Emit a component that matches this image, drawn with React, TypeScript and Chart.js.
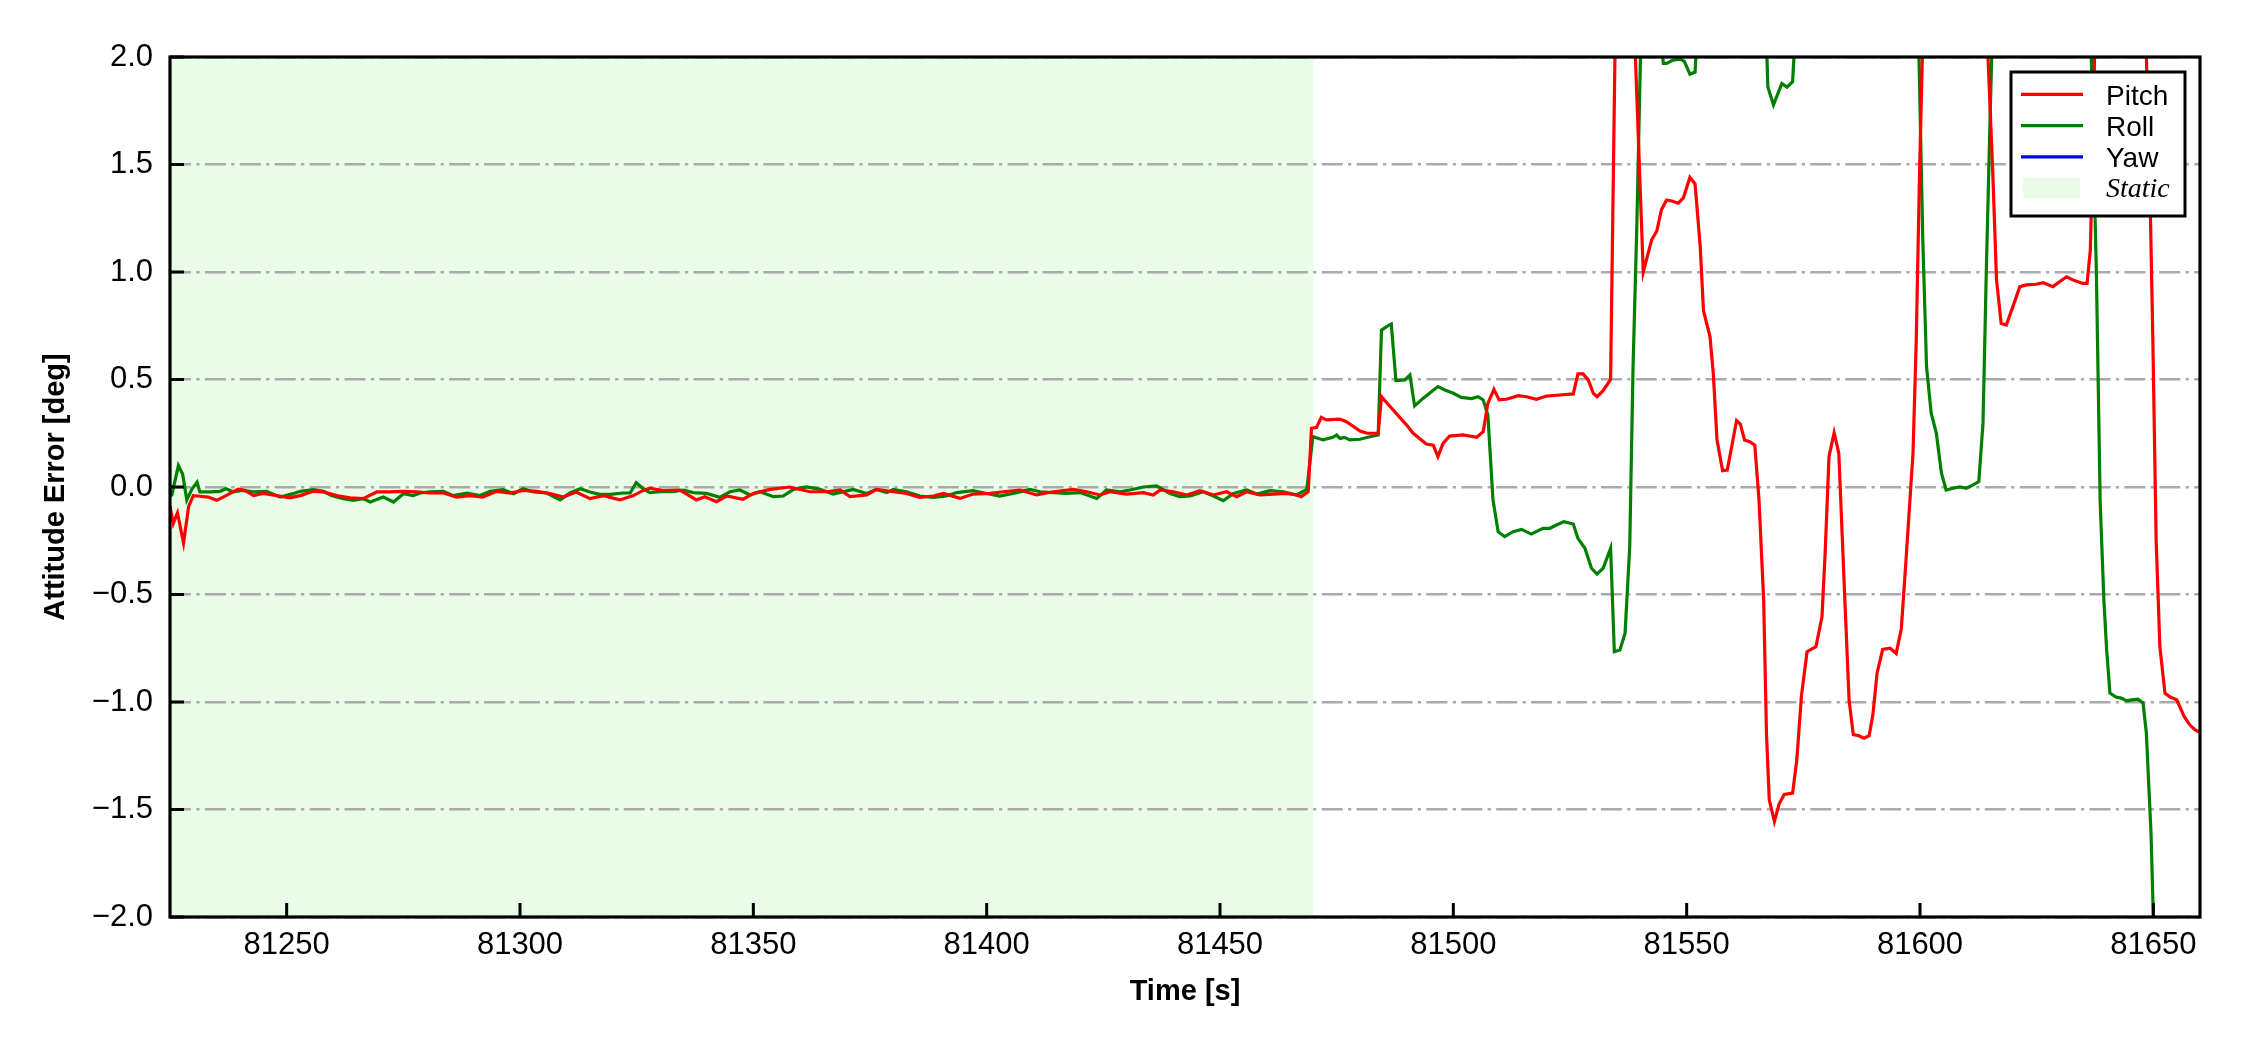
import React, { useEffect, useRef } from 'react';
import { Chart, registerables } from 'chart.js';

Chart.register(...registerables);

// ---------------- data ----------------
const X_MIN = 81225;
const X_MAX = 81660;
const X_TICK_STEP = 50;
const Y_MIN = -2;
const Y_MAX = 2;
const Y_TICK_STEP = 0.5;
const STATIC_START = 81225;
const STATIC_END = 81470;

const X_TITLE = 'Time [s]';
const Y_TITLE = 'Attitude Error [deg]';
const SERIES_LABELS = ['Pitch', 'Roll', 'Yaw'];
const STATIC_LABEL = 'Static';

const PITCH_T = [
  81225.0, 81225.7, 81226.6, 81227.9, 81229.0, 81230.0, 81231.4, 81233.2, 81235.0, 81237.0,
  81239.6, 81241.0, 81242.9, 81245.0, 81247.9, 81250.7, 81252.9, 81255.7, 81257.9, 81260.7,
  81263.6, 81266.4, 81269.3, 81272.0, 81275.0, 81277.9, 81280.7, 81283.6, 81286.4, 81289.3,
  81292.0, 81295.0, 81297.9, 81300.7, 81303.6, 81306.4, 81309.3, 81312.0, 81315.0, 81317.9,
  81321.4, 81324.3, 81326.4, 81327.8, 81330.7, 81334.3, 81337.8, 81339.6, 81342.1, 81344.3,
  81347.8, 81350.0, 81353.6, 81357.8, 81362.1, 81365.7, 81368.6, 81370.7, 81374.3, 81376.4,
  81380.0, 81382.8, 81385.7, 81388.6, 81390.7, 81394.3, 81397.1, 81400.7, 81403.6, 81407.1,
  81410.7, 81414.3, 81418.6, 81421.4, 81424.3, 81426.4, 81430.0, 81433.6, 81435.7, 81437.2,
  81440.0, 81442.9, 81445.7, 81448.6, 81451.4, 81453.6, 81455.7, 81458.6, 81461.4, 81464.3,
  81466.4, 81467.4, 81468.9, 81469.6, 81470.7, 81471.7, 81472.8, 81475.7, 81477.1, 81480.0,
  81481.5, 81483.9, 81484.6, 81487.1, 81490.0, 81491.4, 81494.2, 81495.7, 81496.7, 81497.8,
  81499.2, 81502.1, 81505.0, 81506.4, 81507.4, 81508.7, 81509.8, 81511.4, 81513.9, 81515.7,
  81517.8, 81520.0, 81522.8, 81525.7, 81526.7, 81527.8, 81528.9, 81530.0, 81530.8, 81532.1,
  81533.7, 81535.0, 81538.0, 81540.7, 81542.5, 81543.6, 81544.6, 81545.7, 81546.8, 81548.2,
  81549.3, 81550.7, 81551.8, 81552.9, 81553.6, 81555.0, 81555.7, 81556.5, 81557.7, 81558.7,
  81560.7, 81561.5, 81562.4, 81563.5, 81564.6, 81565.5, 81566.5, 81567.1, 81567.7, 81568.8,
  81569.8, 81570.9, 81572.7, 81573.6, 81574.6, 81575.8, 81577.7, 81579.0, 81579.7, 81580.5,
  81581.6, 81582.6, 81583.9, 81584.8, 81585.7, 81586.9, 81588.0, 81589.1, 81589.9, 81590.8,
  81592.0, 81593.6, 81594.9, 81596.0, 81597.0, 81598.5, 81599.2, 81599.9, 81601.0, 81614.0,
  81615.6, 81616.4, 81617.4, 81618.5, 81619.9, 81621.4, 81622.8, 81624.9, 81626.4, 81628.5,
  81629.9, 81631.4, 81633.1, 81634.9, 81635.8, 81636.5, 81636.9, 81638.0, 81648.0, 81649.2,
  81649.9, 81650.6, 81651.4, 81652.5, 81653.6, 81655.0, 81656.6, 81657.8, 81658.9, 81660.0,
];
const PITCH_V = [
  -0.09, -0.17, -0.12, -0.26, -0.09, -0.04, -0.043, -0.047, -0.062, -0.04,
  -0.01, -0.015, -0.04, -0.03, -0.04, -0.05, -0.04, -0.02, -0.023, -0.04,
  -0.05, -0.054, -0.023, -0.023, -0.02, -0.023, -0.028, -0.028, -0.047, -0.04,
  -0.047, -0.02, -0.028, -0.016, -0.02, -0.031, -0.047, -0.023, -0.054, -0.04,
  -0.06, -0.04, -0.016, -0.005, -0.017, -0.014, -0.06, -0.045, -0.068, -0.042,
  -0.057, -0.03, -0.011, 0.0, -0.022, -0.022, -0.014, -0.045, -0.037, -0.011,
  -0.022, -0.03, -0.048, -0.042, -0.03, -0.053, -0.033, -0.03, -0.022, -0.014,
  -0.037, -0.022, -0.011, -0.022, -0.037, -0.022, -0.033, -0.026, -0.037, -0.014,
  -0.022, -0.037, -0.017, -0.037, -0.022, -0.045, -0.022, -0.037, -0.033, -0.03,
  -0.037, -0.045, -0.022, 0.273, 0.278, 0.324, 0.312, 0.316, 0.304, 0.26,
  0.25, 0.25, 0.42, 0.358, 0.288, 0.25, 0.2, 0.195, 0.141, 0.203,
  0.237, 0.242, 0.231, 0.257, 0.389, 0.454, 0.405, 0.408, 0.425, 0.42,
  0.408, 0.423, 0.428, 0.433, 0.526, 0.526, 0.498, 0.436, 0.42, 0.448,
  0.5, 2.6, 2.6, 1.0, 1.15, 1.19, 1.29, 1.335, 1.33, 1.32,
  1.345, 1.44, 1.41, 1.12, 0.82, 0.7, 0.53, 0.22, 0.076, 0.079,
  0.309, 0.293, 0.219, 0.211, 0.195, -0.06, -0.526, -1.145, -1.455, -1.556,
  -1.475, -1.43, -1.424, -1.27, -0.97, -0.766, -0.743, -0.604, -0.294, 0.141,
  0.253, 0.157, -0.526, -0.99, -1.152, -1.157, -1.168, -1.157, -1.06, -0.866,
  -0.755, -0.75, -0.774, -0.658, -0.34, 0.157, 0.684, 1.459, 2.45, 2.3,
  1.459, 0.963, 0.76, 0.753, 0.839, 0.932, 0.94, 0.943, 0.95, 0.932,
  0.955, 0.978, 0.96, 0.947, 0.947, 1.102, 1.459, 2.65, 2.4, 1.46,
  0.68, -0.246, -0.743, -0.96, -0.977, -0.99, -1.067, -1.106, -1.129, -1.142,
];

const ROLL_T = [
  81225.0, 81225.4, 81226.8, 81227.7, 81228.6, 81229.7, 81230.8, 81231.4, 81233.6, 81235.7,
  81237.0, 81238.6, 81240.4, 81242.9, 81245.7, 81248.6, 81251.4, 81252.9, 81255.7, 81257.9,
  81259.6, 81262.1, 81264.3, 81266.4, 81267.9, 81270.7, 81272.9, 81275.0, 81277.1, 81278.6,
  81280.7, 81283.6, 81285.7, 81288.6, 81291.4, 81293.6, 81296.4, 81298.6, 81300.7, 81302.9,
  81305.7, 81308.6, 81310.7, 81312.9, 81315.0, 81317.1, 81319.3, 81322.1, 81323.6, 81324.9,
  81326.4, 81327.8, 81330.0, 81332.8, 81335.0, 81337.1, 81340.0, 81342.8, 81345.0, 81347.1,
  81349.3, 81351.4, 81354.3, 81356.4, 81358.6, 81361.4, 81364.3, 81367.1, 81371.4, 81374.3,
  81376.4, 81378.6, 81380.0, 81382.8, 81385.7, 81388.6, 81391.4, 81393.6, 81397.1, 81400.0,
  81402.8, 81406.4, 81409.3, 81411.4, 81414.3, 81417.1, 81420.0, 81423.6, 81425.7, 81428.6,
  81430.7, 81433.6, 81436.4, 81439.3, 81441.4, 81443.6, 81446.4, 81448.6, 81450.7, 81452.9,
  81455.7, 81457.9, 81460.7, 81463.6, 81466.4, 81468.6, 81469.9, 81472.1, 81474.2, 81475.0,
  81475.7, 81476.7, 81477.8, 81480.0, 81482.1, 81483.9, 81484.6, 81485.7, 81486.7, 81487.7,
  81489.6, 81490.7, 81491.7, 81493.5, 81495.3, 81496.7, 81498.2, 81500.0, 81501.7, 81503.9,
  81505.3, 81506.4, 81507.4, 81508.5, 81509.6, 81511.0, 81512.8, 81514.6, 81516.7, 81519.2,
  81520.7, 81522.1, 81523.7, 81525.7, 81526.7, 81528.2, 81529.6, 81530.8, 81532.1, 81533.7,
  81534.5, 81535.7, 81536.8, 81537.8, 81538.5, 81539.3, 81540.6, 81543.5, 81545.0, 81545.7,
  81547.0, 81548.6, 81549.5, 81550.7, 81551.8, 81553.0, 81566.5, 81567.4, 81568.6, 81570.4,
  81571.5, 81572.7, 81574.0, 81599.3, 81600.6, 81601.4, 81602.4, 81603.5, 81604.6, 81605.6,
  81607.1, 81608.5, 81609.9, 81611.4, 81612.6, 81613.5, 81614.2, 81614.9, 81616.2, 81636.2,
  81637.8, 81638.6, 81639.4, 81640.0, 81640.7, 81642.0, 81643.1, 81644.3, 81645.4, 81646.7,
  81647.8, 81648.5, 81649.5, 81650.0, 81651.0, 81660.0,
];
const ROLL_V = [
  -0.04, -0.037, 0.1, 0.06, -0.06, -0.01, 0.022, -0.023, -0.023, -0.02,
  -0.008, -0.023, -0.016, -0.023, -0.02, -0.047, -0.031, -0.02, -0.012, -0.02,
  -0.04, -0.054, -0.062, -0.054, -0.07, -0.047, -0.07, -0.031, -0.04, -0.028,
  -0.023, -0.02, -0.04, -0.028, -0.04, -0.02, -0.012, -0.031, -0.008, -0.023,
  -0.028, -0.06, -0.028, -0.008, -0.023, -0.034, -0.034, -0.028, -0.028, 0.02,
  -0.008, -0.026, -0.022, -0.022, -0.014, -0.026, -0.03, -0.048, -0.022, -0.014,
  -0.037, -0.022, -0.045, -0.042, -0.011, 0.0, -0.011, -0.033, -0.011, -0.03,
  -0.011, -0.026, -0.011, -0.022, -0.042, -0.048, -0.042, -0.026, -0.017, -0.03,
  -0.042, -0.026, -0.011, -0.022, -0.026, -0.03, -0.026, -0.053, -0.014, -0.022,
  -0.014, 0.0, 0.005, -0.03, -0.045, -0.042, -0.022, -0.042, -0.064, -0.03,
  -0.014, -0.033, -0.017, -0.022, -0.037, -0.011, 0.234, 0.219, 0.231, 0.242,
  0.226, 0.231, 0.219, 0.222, 0.234, 0.242, 0.73, 0.746, 0.758, 0.495,
  0.498, 0.521, 0.377, 0.412, 0.443, 0.467, 0.451, 0.436, 0.417, 0.411,
  0.42, 0.405, 0.335, -0.06, -0.208, -0.231, -0.208, -0.197, -0.219, -0.192,
  -0.192, -0.177, -0.161, -0.172, -0.239, -0.285, -0.378, -0.405, -0.378, -0.285,
  -0.766, -0.758, -0.68, -0.277, 0.55, 1.2, 2.5, 2.3, 1.97, 1.97,
  1.985, 1.99, 1.98, 1.92, 1.93, 2.4, 2.5, 1.86, 1.777, 1.877,
  1.86, 1.885, 2.4, 2.5, 1.149, 0.56, 0.343, 0.25, 0.064, -0.014,
  -0.006, 0.0, -0.006, 0.01, 0.025, 0.297, 0.994, 1.614, 2.7, 2.46,
  0.994, -0.063, -0.526, -0.758, -0.959, -0.977, -0.982, -0.995, -0.99, -0.987,
  -1.005, -1.144, -1.608, -1.995, -3.2, -3.3,
];

const YAW_T: number[] = [];
const YAW_V: number[] = [];

// ---------------- styles ----------------
const W = 2250;
const H = 1050;
const SANS = "'Liberation Sans', Arial, Helvetica, sans-serif";
const SERIF = "'Liberation Serif', 'Times New Roman', Times, serif";
const COLORS = ['#ff0000', '#008000', '#0000ff'];
const STATIC_COLOR = '#e8fce8';
const GRID_COLOR = '#aaaaaa';

const toPoints = (ts: number[], vs: number[]) => ts.map((t, i) => ({ x: t, y: vs[i] }));

const staticSpanPlugin = {
  id: 'staticSpan',
  beforeDraw(chart: any) {
    const { ctx, chartArea, scales } = chart;
    const x0 = Math.max(scales.x.getPixelForValue(STATIC_START), chartArea.left);
    const x1 = Math.min(scales.x.getPixelForValue(STATIC_END), chartArea.right);
    ctx.save();
    ctx.fillStyle = STATIC_COLOR;
    ctx.fillRect(x0, chartArea.top, x1 - x0, chartArea.bottom - chartArea.top);
    ctx.restore();
  },
};

const framePlugin = {
  id: 'frame',
  afterDatasetsDraw(chart: any) {
    const { ctx, chartArea, scales } = chart;
    const { left, right, top, bottom } = chartArea;
    ctx.save();
    ctx.strokeStyle = '#000000';
    ctx.lineWidth = 3;
    ctx.beginPath();
    scales.x.ticks.forEach((t: any) => {
      const px = scales.x.getPixelForValue(t.value);
      ctx.moveTo(px, bottom);
      ctx.lineTo(px, bottom - 14);
    });
    scales.y.ticks.forEach((t: any) => {
      const py = scales.y.getPixelForValue(t.value);
      ctx.moveTo(left, py);
      ctx.lineTo(left + 14, py);
    });
    ctx.stroke();
    ctx.lineWidth = 3.2;
    ctx.strokeRect(left, top, right - left, bottom - top);
    ctx.restore();
  },
};

const legendPlugin = {
  id: 'boxLegend',
  afterDraw(chart: any) {
    const { ctx, chartArea } = chart;
    const boxW = 174;
    const boxH = 144;
    const bx = chartArea.right - 15 - boxW;
    const by = chartArea.top + 15;
    const rowH = 31.3;
    const firstRow = 22.3;
    ctx.save();
    ctx.fillStyle = '#ffffff';
    ctx.fillRect(bx, by, boxW, boxH);
    ctx.strokeStyle = '#000000';
    ctx.lineWidth = 3;
    ctx.strokeRect(bx, by, boxW, boxH);
    const datasets = chart.data.datasets;
    datasets.forEach((ds: any, i: number) => {
      const cy = by + firstRow + i * rowH;
      ctx.strokeStyle = ds.borderColor;
      ctx.lineWidth = 3.2;
      ctx.beginPath();
      ctx.moveTo(bx + 10, cy);
      ctx.lineTo(bx + 72, cy);
      ctx.stroke();
      ctx.fillStyle = '#000000';
      ctx.font = `28px ${SANS}`;
      ctx.textAlign = 'left';
      ctx.textBaseline = 'alphabetic';
      ctx.fillText(ds.label, bx + 95, cy + 10.3);
    });
    const cy = by + firstRow + datasets.length * rowH;
    ctx.fillStyle = STATIC_COLOR;
    ctx.fillRect(bx + 12, cy - 10, 57, 20);
    ctx.fillStyle = '#000000';
    ctx.font = `italic 28px ${SERIF}`;
    ctx.textAlign = 'left';
    ctx.textBaseline = 'alphabetic';
    ctx.fillText(STATIC_LABEL, bx + 95, cy + 9);
    ctx.restore();
  },
};

const fmtY = (v: number) => {
  const r = Math.round(v * 10) / 10;
  const s = Math.abs(r).toFixed(1);
  return r < 0 ? '\u2212' + s : s;
};

export default function App() {
  const ref = useRef<HTMLCanvasElement | null>(null);

  useEffect(() => {
    document.body.style.margin = '0';
    const canvas = ref.current;
    if (!canvas) return;
    const chart = new Chart(canvas, {
      type: 'line',
      data: {
        datasets: [
          { label: SERIES_LABELS[0], data: toPoints(PITCH_T, PITCH_V), borderColor: COLORS[0] },
          { label: SERIES_LABELS[1], data: toPoints(ROLL_T, ROLL_V), borderColor: COLORS[1] },
          { label: SERIES_LABELS[2], data: toPoints(YAW_T, YAW_V), borderColor: COLORS[2] },
        ].map((d) => ({
          ...d,
          backgroundColor: d.borderColor,
          borderWidth: 3.2,
          pointRadius: 0,
          pointHoverRadius: 0,
          tension: 0,
          fill: false,
          clip: 0,
        })),
      },
      options: {
        animation: false,
        responsive: false,
        maintainAspectRatio: false,
        devicePixelRatio: 1,
        events: [],
        layout: { padding: { left: 0, right: 50, top: 57, bottom: 0 } },
        plugins: {
          legend: { display: false },
          tooltip: { enabled: false },
          title: { display: false },
        },
        scales: {
          x: {
            type: 'linear',
            min: X_MIN,
            max: X_MAX,
            afterFit: (s: any) => {
              s.height = 133;
            },
            grid: { display: false, drawTicks: false },
            border: { display: false },
            ticks: {
              stepSize: X_TICK_STEP,
              includeBounds: false,
              autoSkip: false,
              maxRotation: 0,
              minRotation: 0,
              padding: 10,
              color: '#000000',
              font: { family: SANS, size: 31 },
              callback: (v: any) => String(v),
            },
            title: {
              display: true,
              text: X_TITLE,
              color: '#000000',
              font: { family: SANS, size: 29, weight: 'bold' },
              padding: { top: 0, bottom: 41 },
            },
          },
          y: {
            type: 'linear',
            min: Y_MIN,
            max: Y_MAX,
            afterFit: (s: any) => {
              s.width = 170;
            },
            grid: { display: true, drawTicks: false, color: GRID_COLOR, lineWidth: 2.6 },
            border: { display: false, dash: [21, 5.3, 3.3, 5.3] },
            ticks: {
              stepSize: Y_TICK_STEP,
              includeBounds: false,
              autoSkip: false,
              padding: 17,
              color: '#000000',
              font: { family: SANS, size: 31 },
              callback: (v: any) => fmtY(Number(v)),
            },
            title: {
              display: true,
              text: Y_TITLE,
              color: '#000000',
              font: { family: SANS, size: 29, weight: 'bold' },
              padding: { top: 39, bottom: 0 },
            },
          },
        },
      } as any,
      plugins: [staticSpanPlugin, framePlugin, legendPlugin],
    });
    return () => chart.destroy();
  }, []);

  return (
    <div style={{ position: 'fixed', left: 0, top: 0, width: W, height: H, background: '#ffffff' }}>
      <canvas ref={ref} width={W} height={H} style={{ width: W, height: H, display: 'block' }} />
    </div>
  );
}
